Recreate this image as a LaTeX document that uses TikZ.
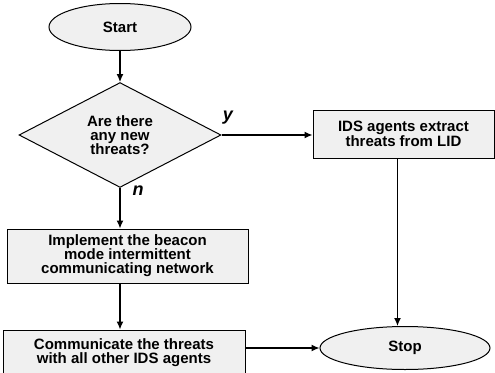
\documentclass[tikz,border=0pt]{standalone}
\usepackage{fontspec}
\setmainfont{Liberation Sans}
\usetikzlibrary{shapes.geometric,arrows.meta}

\begin{document}
\begin{tikzpicture}[x=1pt, y=-1pt]

  \tikzstyle{box}  = [draw, line width=1pt, fill=gray!12, align=center, inner sep=0pt,
                      font=\fontsize{15}{14}\selectfont\bfseries]
  \tikzstyle{term} = [box, ellipse]
  \tikzstyle{proc} = [box, rectangle]
  \tikzstyle{test} = [box, diamond]
  \tikzstyle{arr}  = [-{Latex[length=8pt,width=7pt]}, line width=1.3pt]
  \tikzstyle{yn}   = [font=\fontsize{18}{18}\selectfont\bfseries\itshape]

  \useasboundingbox (0,0) rectangle (495,372);

  % ---- SHAPES ----
  \node[term, minimum width=142pt, minimum height=47pt] (start) at (120,27) {Start};
  \node[test, minimum width=202pt, minimum height=100pt] (new) at (120,135)
    {Are there\\any new\\threats?};
  \node[proc, minimum width=181pt, minimum height=48pt] (ids) at (403.5,134)
    {IDS agents extract\\threats from LID};
  \node[proc, minimum width=241pt, minimum height=54pt] (impl) at (127.5,256)
    {Implement the beacon\\mode intermittent\\communicating network};
  \node[proc, minimum width=242pt, minimum height=46pt] (comm) at (124,353)
    {Communicate the threats\\with all other IDS agents};
  \node[term, minimum width=170pt, minimum height=43pt] (stop) at (405,348) {Stop};

  % ---- BRANCH LABELS ----
  \node[yn] (ylbl) at (228,118) {y};
  \node[yn] (nlbl) at (138,191) {n};

  % ---- ARROWS ----
  \draw[arr] (start.south) -- (new.north);
  \draw[arr] (new.east) -- (new.east -| ids.west);
  \draw[arr] (new.south) -- (new.south |- impl.north);
  \draw[arr] (new.south |- impl.south) -- (new.south |- comm.north);
  \draw[arr] ([xshift=-6pt]ids.south) -- ([xshift=-6pt]ids.south |- stop.north);
  \draw[arr] (comm.east |- stop.west) -- (stop.west);

\end{tikzpicture}
\end{document}
